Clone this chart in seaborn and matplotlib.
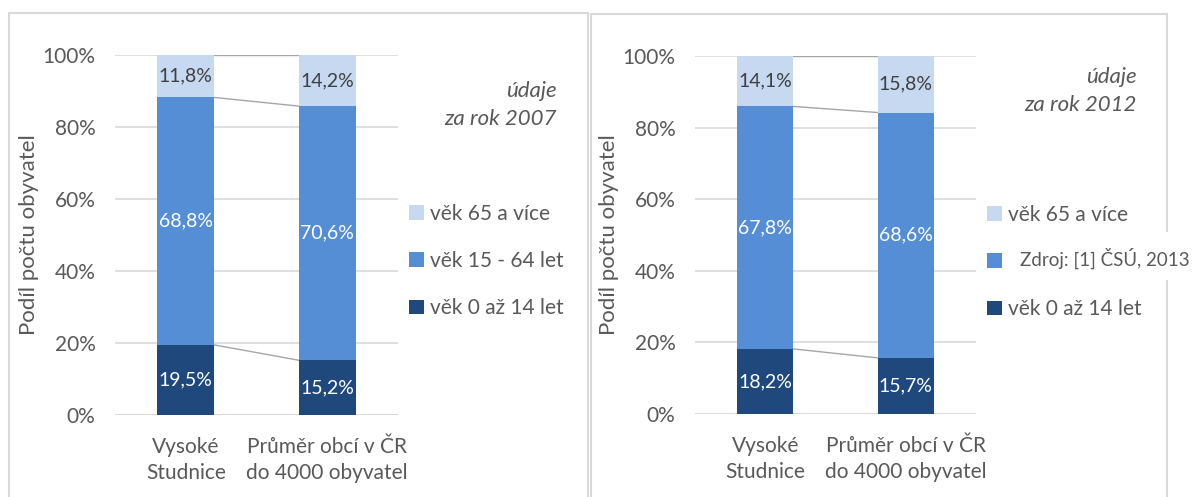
import numpy as np
import pandas as pd

import matplotlib.pyplot as plt
from matplotlib.patches import Patch, Rectangle
from matplotlib.ticker import PercentFormatter

import seaborn as sns

# data (percent of population)
categories = ["Vysoké\nStudnice", "Průměr obcí v ČR\ndo 4000 obyvatel"]
series_names = ["věk 0 až 14 let", "věk 15 - 64 let", "věk 65 a více"]

age_0_14_2007 = [19.5, 15.2]
age_15_64_2007 = [68.8, 70.6]
age_65_2007 = [11.8, 14.2]

age_0_14_2012 = [18.2, 15.7]
age_15_64_2012 = [67.8, 68.6]
age_65_2012 = [14.1, 15.8]

years = ["2007", "2012"]
source_note = "Zdroj: [1] ČSÚ, 2013"

COLORS = ["#1F497D", "#558ED5", "#C6D9F1"]
LABEL_COLORS = ["white", "white", "#404040"]
TEXT = "#595959"
GRID = "#D9D9D9"
BAR_W = 0.4
FS = 15


def fmt(v):
    return f"{v:.1f}".replace(".", ",") + "%"


def stacked_panel(ax, parts, fig, legend_anchor, hide_middle=False):
    values = np.array(parts, dtype=float)          # shape (3 series, 2 cats)
    shares = values / values.sum(axis=0) * 100     # 100 % stacked
    cum = np.cumsum(shares, axis=0)

    # draw from the top total down, so each layer shows as a segment
    for i in range(2, -1, -1):
        df = pd.DataFrame({"cat": categories, "val": cum[i]})
        sns.barplot(data=df, x="cat", y="val", color=COLORS[i], width=BAR_W,
                    saturation=1, edgecolor="none", linewidth=0, ax=ax,
                    zorder=3)

    # series lines between the bars
    for i in range(3):
        ax.plot([BAR_W / 2, 1 - BAR_W / 2], [cum[i][0], cum[i][1]],
                color="#A6A6A6", lw=1, zorder=2)

    # data labels
    for i in range(3):
        for j in range(2):
            mid = cum[i][j] - shares[i][j] / 2
            ax.text(j, mid, fmt(values[i][j]), ha="center", va="center",
                    color=LABEL_COLORS[i], fontsize=14, zorder=4)

    ax.set_xlim(-0.5, 1.5)
    ax.set_ylim(0, 100)
    ax.set_yticks([0, 20, 40, 60, 80, 100])
    ax.yaxis.set_major_formatter(PercentFormatter(xmax=100, decimals=0))
    ax.grid(axis="y", color=GRID, lw=1.2, zorder=0)
    ax.set_axisbelow(True)
    for s in ax.spines.values():
        s.set_visible(False)
    ax.axhline(0, color=GRID, lw=1.2, zorder=1)
    ax.tick_params(axis="both", length=0, labelsize=FS, colors=TEXT)
    ax.tick_params(axis="y", pad=14)
    ax.tick_params(axis="x", pad=16)
    for lbl in ax.get_xticklabels():
        lbl.set_linespacing(1.35)
    ax.set_xlabel("")
    ax.set_ylabel("Podíl počtu obyvatel", fontsize=FS + 1, color=TEXT)
    ax.yaxis.set_label_coords(-0.27, 0.5)

    handles = [Patch(facecolor=COLORS[i], edgecolor="none") for i in (2, 1, 0)]
    labels = [series_names[i] for i in (2, 1, 0)]
    if hide_middle:
        # in the reference this label sits under the source note
        labels[1] = " "
    ax.legend(handles, labels, loc="upper left", bbox_to_anchor=legend_anchor,
              bbox_transform=fig.transFigure, frameon=False, fontsize=FS,
              handlelength=0.7, handleheight=0.7, handletextpad=0.3,
              labelspacing=1.3, borderpad=0, borderaxespad=0,
              labelcolor=TEXT)


def main():
    sns.set_theme(style="white")
    plt.rcParams["font.family"] = ["Lato", "DejaVu Sans"]

    fig = plt.figure(figsize=(11.98, 4.97), dpi=100)
    W, H = 1198, 497

    ax1 = fig.add_axes([115 / W, 1 - 415 / H, 283 / W, 360 / H])
    ax2 = fig.add_axes([695 / W, 1 - 414 / H, 281 / W, 358 / H])

    stacked_panel(ax1, [age_0_14_2007, age_15_64_2007, age_65_2007], fig,
                  (409 / W, 1 - 204 / H))
    stacked_panel(ax2, [age_0_14_2012, age_15_64_2012, age_65_2012], fig,
                  (987 / W, 1 - 205 / H), hide_middle=True)

    # panel frames
    fig.add_artist(Rectangle((9 / W, -0.05), 579 / W, 1.05 - 13 / H,
                             transform=fig.transFigure, fill=False,
                             edgecolor=GRID, lw=1.5))
    fig.add_artist(Rectangle((591 / W, -0.05), 576 / W, 1.05 - 14 / H,
                             transform=fig.transFigure, fill=False,
                             edgecolor=GRID, lw=1.5))

    # year notes
    fig.text(557 / W, 1 - 105 / H, f"údaje\nza rok {years[0]}", ha="right",
             va="center", ma="right", style="italic", fontsize=16,
             color=TEXT, linespacing=1.45)
    fig.text(1137 / W, 1 - 91 / H, f"údaje\nza rok {years[1]}", ha="right",
             va="center", ma="right", style="italic", fontsize=16,
             color=TEXT, linespacing=1.45)

    # source box pasted over the right legend
    fig.add_artist(Rectangle((1005 / W, 1 - 280 / H), 200 / W, 48 / H,
                             transform=fig.transFigure, facecolor="white",
                             edgecolor="none", zorder=10))
    fig.text(1020 / W, 1 - 258 / H, source_note, ha="left", va="center",
             fontsize=13.5, color=TEXT, zorder=11)

    plt.savefig("out.png", dpi=100)


if __name__ == "__main__":
    main()
